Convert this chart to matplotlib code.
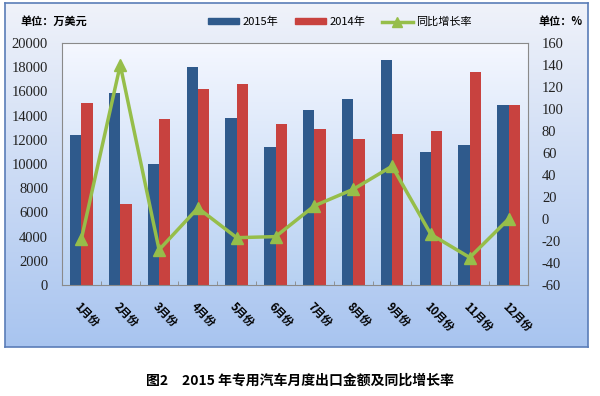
import matplotlib.pyplot as plt
import numpy as np
from matplotlib.lines import Line2D
from matplotlib.patches import Patch

plt.rcParams['font.family'] = ['Noto Sans CJK SC', 'DejaVu Sans']
plt.rcParams['font.serif'] = ['Liberation Serif', 'DejaVu Serif']

months = ['1月份', '2月份', '3月份', '4月份', '5月份', '6月份',
          '7月份', '8月份', '9月份', '10月份', '11月份', '12月份']
y2015 = [12400, 15900, 10000, 18000, 13800, 11400, 14500, 15400, 18600, 11000, 11600, 14900]
y2014 = [15000, 6700, 13700, 16200, 16600, 13300, 12900, 12100, 12500, 12700, 17600, 14900]
growth = [-18, 140, -28, 10, -17, -16, 12, 27, 48, -14, -35, 0]
left_ticks = list(range(0, 20001, 2000))
right_ticks = list(range(-60, 161, 20))

c2015 = '#2F5A8C'
c2014 = '#C8423F'
cgrowth = '#96BE4A'

fig = plt.figure(figsize=(6, 3.96), dpi=100)
fig.patch.set_facecolor('white')

# outer frame with gradient
W, H = 600, 396
bg = fig.add_axes([5 / W, 1 - 347 / H, 583 / W, 344 / H], zorder=0)
grad = np.linspace(0, 1, 256).reshape(-1, 1)
top = np.array([0.94, 0.95, 0.98])
bot = np.array([0.66, 0.77, 0.94])
img = top + (bot - top) * grad[:, :, None] * np.ones((1, 1, 3))
bg.imshow(img, aspect='auto', extent=[0, 1, 0, 1], origin='upper')
bg.set_xticks([])
bg.set_yticks([])
for s in bg.spines.values():
    s.set_color('#5A7DB8')
    s.set_linewidth(1.2)

ax = fig.add_axes([62 / W, 1 - 285 / H, 466 / W, 242 / H], zorder=1)
ax.patch.set_alpha(0)
top2 = np.array([0.96, 0.97, 1.0])
bot2 = np.array([0.72, 0.82, 0.95])
img2 = top2 + (bot2 - top2) * grad[:, :, None] * np.ones((1, 1, 3))
x = np.arange(len(months))
ax.imshow(img2, aspect='auto', extent=[-0.5, 11.5, 0, 20000], origin='upper', zorder=0)

w = 0.29
ax.bar(x - w / 2, y2015, w, color=c2015, zorder=2)
ax.bar(x + w / 2, y2014, w, color=c2014, zorder=2)
ax.set_xlim(-0.5, 11.5)
ax.set_ylim(0, 20000)
ax.set_yticks(left_ticks, [str(v) for v in left_ticks], family='serif', fontsize=10.5)
ax.tick_params(axis='y', length=0, pad=10, labelcolor='#222222')
ax.set_xticks(x)
ax.set_xticklabels(months, rotation=-45, ha='left', va='top', fontsize=8,
                   fontweight='bold', rotation_mode='anchor')
ax.tick_params(axis='x', length=0, pad=11)
ax.set_xticks(np.arange(-0.5, 12, 1), minor=True)
ax.tick_params(axis='x', which='minor', length=3, color='#888888', direction='in')
for s in ax.spines.values():
    s.set_color('#8A8A8A')
    s.set_linewidth(0.8)

ax2 = ax.twinx()
ax2.plot(x, growth, color=cgrowth, lw=2.5, marker='^', ms=8, zorder=3)
ax2.set_ylim(-60, 160)
ax2.set_yticks(right_ticks, [str(v) for v in right_ticks], family='serif', fontsize=10.5)
ax2.tick_params(axis='y', length=0, pad=10, labelcolor='#222222')
for s in ax2.spines.values():
    s.set_visible(False)

fig.text(20 / W, 1 - 21 / H, '单位：万美元', fontsize=8, fontweight='bold', va='center')
fig.text(538 / W, 1 - 21 / H, '单位：%', fontsize=8, fontweight='bold', va='center')

handles = [Patch(color=c2015), Patch(color=c2014),
           Line2D([0], [0], color=cgrowth, lw=2.5, marker='^', ms=7)]
fig.legend(handles, ['2015年', '2014年', '同比增长率'], loc='center',
           bbox_to_anchor=(340 / W, 1 - 22 / H), ncol=3, frameon=False,
           fontsize=8, handlelength=2.8, handleheight=0.5, columnspacing=1.5,
           handletextpad=0.3)

fig.text(0.5, 1 - 381 / H, '图2　2015 年专用汽车月度出口金额及同比增长率', ha='center',
         va='center', fontsize=10, fontweight='bold')

fig.savefig('out.png', dpi=100)
